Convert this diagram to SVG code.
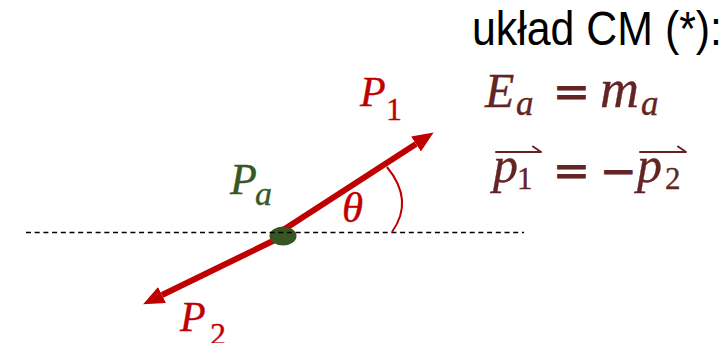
<svg xmlns="http://www.w3.org/2000/svg" width="724" height="343" viewBox="0 0 724 343">
<defs>
<style>
.math{font-family:"Liberation Serif","Times New Roman",serif;font-style:italic;stroke-width:0.35;}
.up{font-family:"Liberation Serif","Times New Roman",serif;font-style:normal;stroke-width:0.35;}
.op{font-family:"DejaVu Serif","Liberation Serif",serif;font-style:normal;}
.red{fill:#C00000;stroke:#C00000;}
.grn{fill:#385723;stroke:#385723;}
.eq{fill:#632423;stroke:#632423;}
.arrow{stroke:#C00000;stroke-width:6;fill:none;}
.acc{stroke:#632423;stroke-width:2;fill:none;stroke-linecap:round;stroke-linejoin:round;}
</style>
<marker id="head" markerUnits="userSpaceOnUse" markerWidth="22" markerHeight="20" refX="0" refY="10" orient="auto" viewBox="0 0 22 20">
<path d="M0,1 L21,10 L0,19 Z" fill="#C00000"/>
</marker>
</defs>
<rect width="724" height="343" fill="#ffffff"/>
<g id="connectors">
<line class="arrow" x1="280" y1="232" x2="416" y2="144" marker-end="url(#head)"/>
<line class="arrow" x1="278" y1="238.5" x2="162" y2="295" marker-end="url(#head)"/>
</g>
<g id="node-pa">
<ellipse cx="283" cy="236" rx="13.5" ry="9.5" fill="#375623"/>
<text class="math grn" x="230" y="194" font-size="44">P</text>
<text class="math grn" x="255" y="205" font-size="34">a</text>
</g>
<g id="axis">
<line x1="26" y1="232.5" x2="524" y2="232.5" stroke="#000" stroke-width="1.3" stroke-dasharray="5 3.7"/>
</g>
<g id="angle">
<path d="M387,167 Q414.5,200.5 392,232" stroke="#C00000" stroke-width="2" fill="none"/>
<text class="math red" x="342" y="222" font-size="43">θ</text>
</g>
<g id="label-p1">
<text class="math red" x="360" y="106" font-size="42">P</text>
<text class="up red" x="386" y="120" font-size="32">1</text>
</g>
<g id="label-p2">
<text class="math red" x="180" y="331" font-size="42">P</text>
<text class="up red" x="210" y="345" font-size="32">2</text>
</g>
<g id="title">
<text x="472" y="45" font-family="Liberation Sans, Arial, sans-serif" font-size="48" textLength="250" lengthAdjust="spacingAndGlyphs" fill="#000">układ CM (*):</text>
</g>
<g id="equations">
<text class="math eq" x="485" y="107" font-size="48">E</text>
<text class="math eq" x="516" y="115" font-size="35">a</text>
<text class="op eq" x="553" y="107" font-size="44">=</text>
<text class="math eq" x="600" y="107" font-size="54" textLength="39" lengthAdjust="spacingAndGlyphs">m</text>
<text class="math eq" x="641" y="115" font-size="35">a</text>
<path class="acc" d="M496,152 H541 M533,146.5 L541,152"/>
<text class="math eq" x="493" y="182" font-size="50">p</text>
<text class="up eq" x="517" y="189" font-size="31">1</text>
<text class="op eq" x="553" y="186" font-size="44">=</text>
<text class="op eq" x="600" y="186" font-size="44">−</text>
<path class="acc" d="M640,152 H686 M678,146.5 L686,152"/>
<text class="math eq" x="637" y="182" font-size="50">p</text>
<text class="up eq" x="665" y="189" font-size="31">2</text>
</g>
</svg>
